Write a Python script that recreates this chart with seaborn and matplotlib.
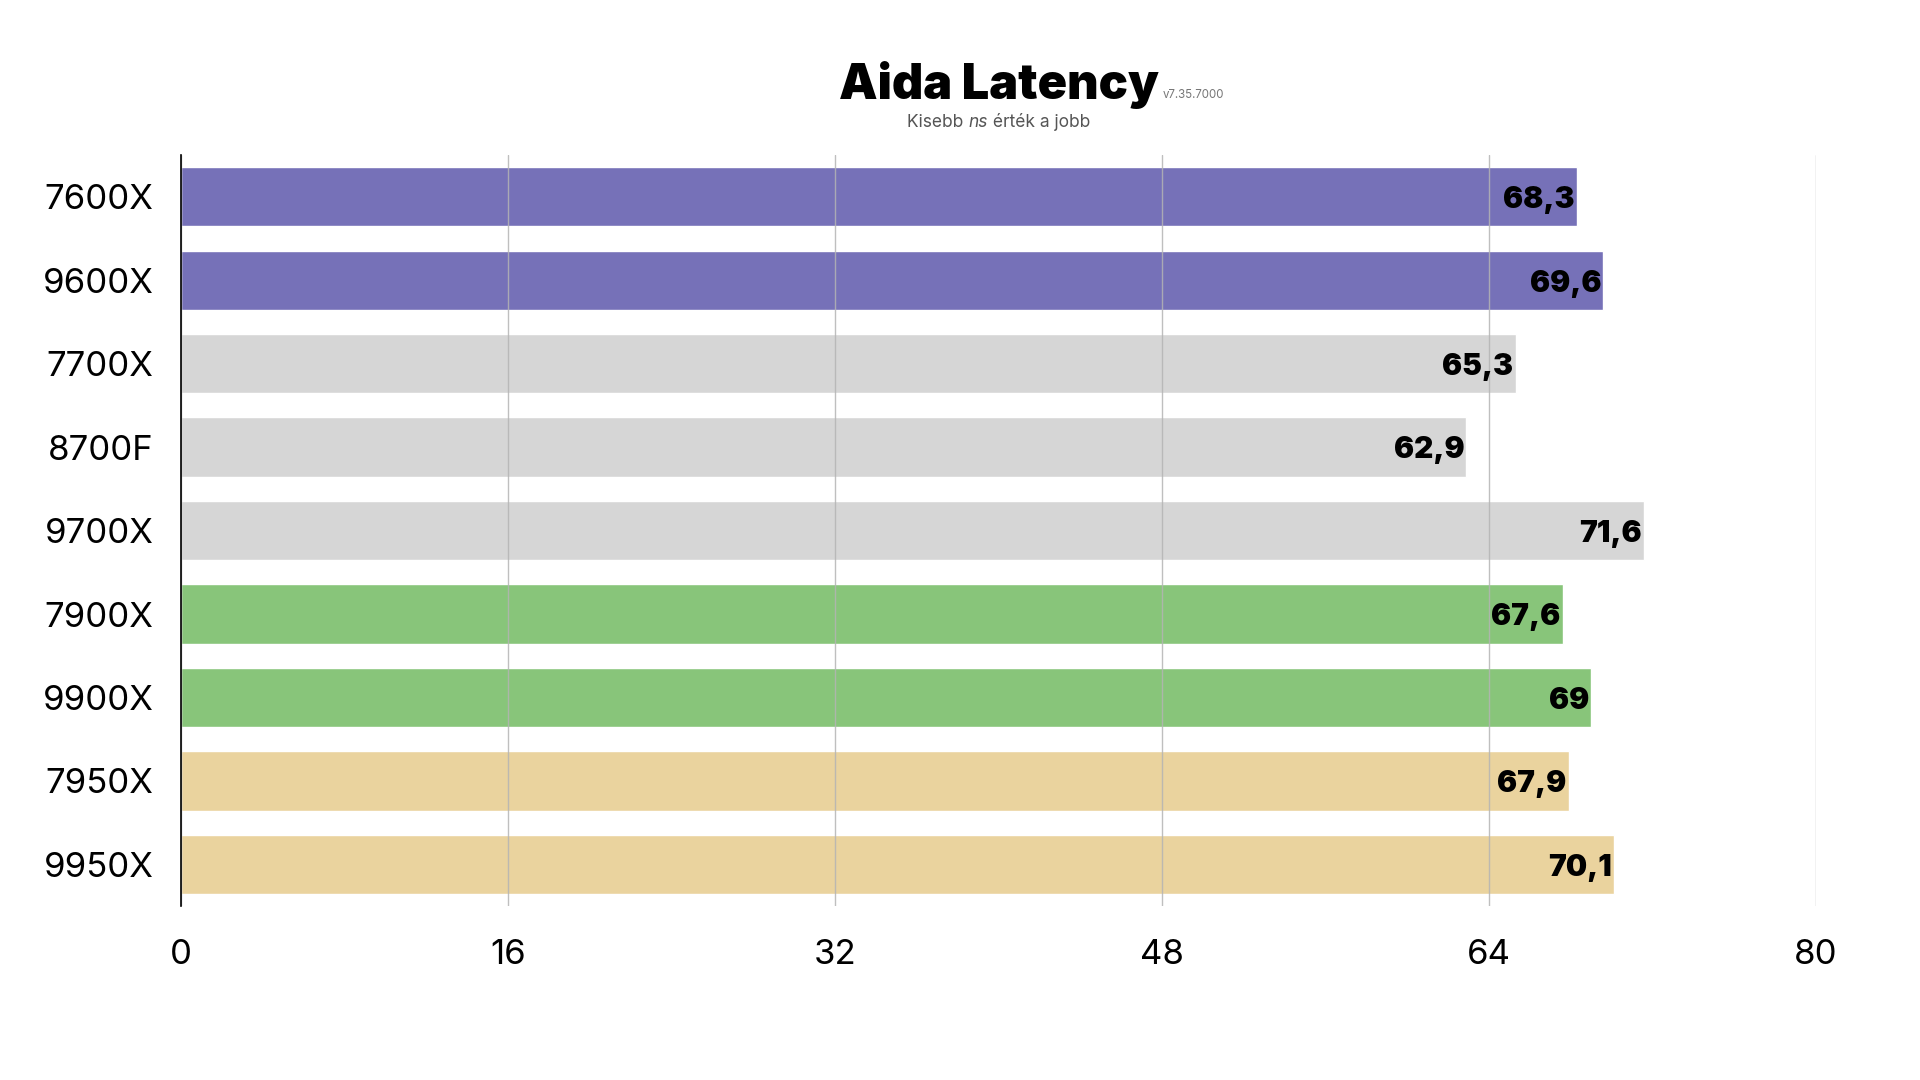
import pandas as pd
import seaborn as sns
import matplotlib.pyplot as plt

# Chart data
cpus = ['7600X', '9600X', '7700X', '8700F', '9700X', '7900X', '9900X', '7950X', '9950X']
latency = [68.3, 69.6, 65.3, 62.9, 71.6, 67.6, 69.0, 67.9, 70.1]
groups = ['6core', '6core', '8core', '8core', '8core', '12core', '12core', '16core', '16core']
group_colors = {'6core': '#7671B8', '8core': '#D6D6D6', '12core': '#88C57A', '16core': '#EAD39E'}
x_ticks = [0, 16, 32, 48, 64, 80]

df = pd.DataFrame({'cpu': cpus, 'latency': latency, 'group': groups})

sns.set_theme(style='white')
plt.rcParams['font.family'] = ['Inter', 'DejaVu Sans']

fig = plt.figure(figsize=(19.2, 10.8), dpi=100)
ax = fig.add_axes([0.0943, 0.161, 0.8515, 0.6955])

sns.barplot(data=df, x='latency', y='cpu', hue='group', palette=group_colors,
            order=cpus, width=0.71, dodge=False, legend=False, ax=ax, saturation=1)

ax.set_xlim(0, 80)
ax.set_ylim(8.5, -0.5)
ax.set_xticks(x_ticks)
ax.set_xlabel('')
ax.set_ylabel('')
# gridlines sit on top of the bars, like the original
ax.set_axisbelow(False)
ax.grid(axis='x', color='#B4B4B4', linewidth=1, alpha=0.85, zorder=3)
ax.grid(axis='y', visible=False)
for side in ['top', 'right', 'bottom']:
    ax.spines[side].set_visible(False)
ax.spines['left'].set_color('black')
ax.spines['left'].set_linewidth(1.2)
ax.spines['left'].set_zorder(4)
ax.tick_params(axis='x', length=0, pad=24, labelsize=25)
ax.tick_params(axis='y', length=0, pad=20, labelsize=25)
for lab in ax.get_xticklabels() + ax.get_yticklabels():
    lab.set_color('black')

# Value labels inside bar ends
for i, v in enumerate(latency):
    txt = ('%g' % v).replace('.', ',')
    ax.text(v - 0.1, i + 0.04, txt, ha='right', va='center', fontsize=21.5,
            fontweight='black', color='black', zorder=5)

# Title
cx = 0.5 * (0.0943 + 0.9458)
title = fig.text(cx, 0.921, 'Aida Latency', ha='center', va='center',
                 fontsize=35, fontweight='black', color='black')
ax.annotate('v7.35.7000', xy=(1, 0.3), xycoords=title, xytext=(3, 0),
            textcoords='offset points', ha='left', va='center',
            fontsize=8.3, color='#777777')

# Subtitle with italic "ns"
fig.canvas.draw()
renderer = fig.canvas.get_renderer()
parts = [('Kisebb ', 'normal'), ('ns', 'italic'), (' érték a jobb', 'normal')]
texts = []
for s, style in parts:
    t = fig.text(0, 0.887, s, ha='left', va='center', fontsize=12.5,
                 style=style, color='#555555')
    texts.append(t)
widths = [t.get_window_extent(renderer).width / fig.bbox.width for t in texts]
pos = cx - sum(widths) / 2
for t, w in zip(texts, widths):
    t.set_x(pos)
    pos += w

fig.savefig('out.png', dpi=100, facecolor='white')
